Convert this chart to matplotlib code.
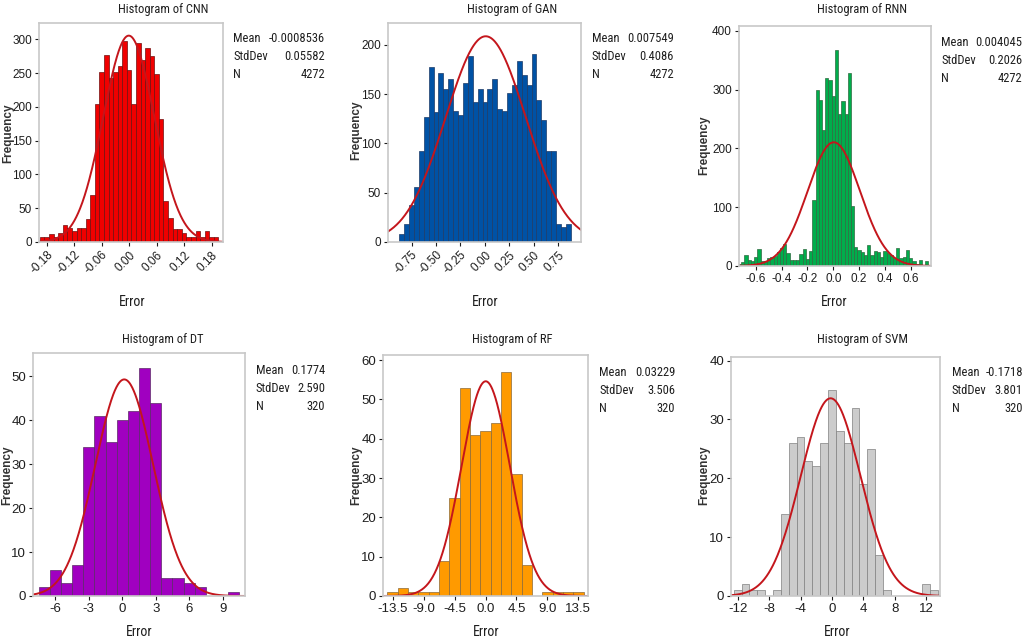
import matplotlib.pyplot as plt
from matplotlib import font_manager as fm
import numpy as np

# look for a narrow sans face (the reference text is condensed), else plain Arial metrics
narrow = None
for pref in ['Liberation Sans Narrow', 'Roboto Condensed', 'Open Sans Condensed', 'Noto Sans']:
    for f in fm.fontManager.ttflist:
        cond = ('Narrow' in f.name or 'Condensed' in f.name or f.stretch in ('condensed', 'semi-condensed'))
        if f.name.startswith(pref) and cond and f.style == 'normal' and f.weight in (400, 'normal', 'regular'):
            narrow = f.fname
            break
    if narrow:
        break

if narrow:
    fm.fontManager.addfont(narrow)
    narrow_name = fm.FontProperties(fname=narrow).get_name()
    plt.rcParams['font.family'] = [narrow_name, 'Liberation Sans', 'DejaVu Sans']
    stat_fs, title_fs, err_fs = 9, 9, 10
else:
    plt.rcParams['font.family'] = ['Liberation Sans', 'DejaVu Sans']
    stat_fs, title_fs, err_fs = 8, 8.5, 9

# CNN: bins 0.01 wide, midpoints -0.19 .. 0.19
cnn_counts = [8, 8, 12, 7, 14, 25, 20, 17, 21, 20, 34, 70,
              204, 252, 277, 243, 252, 260, 297, 254, 204, 294, 270, 287, 275, 249, 182,
              60, 36, 19, 19, 13, 7, 7, 16, 7, 16, 8, 8]
# GAN: bins 0.05 wide, midpoints -0.85 .. 0.85
gan_counts = [8, 18, 38, 56, 92, 127, 177, 132, 171, 155, 165, 133, 129, 161, 189, 142,
              155, 142, 155, 165, 135, 133, 151, 159, 183, 169, 159, 191, 144, 124, 92,
              92, 18, 15, 18]
# RNN: bins 0.025 wide, midpoints -0.725 .. 0.725
rnn_counts = [3, 7, 19, 11, 8, 15, 29, 9, 9, 13, 16, 17, 24, 30, 38, 22, 11, 11, 11, 20,
              29, 12, 25,
              112, 300, 282, 232, 320, 316, 289, 368, 258, 280, 258, 328, 102,
              33, 27, 24, 19, 35, 19, 26, 24, 16, 25, 22, 19, 14, 30, 14, 16, 27, 14,
              9, 3, 10, 2, 8]
# DT: bins 1 wide, midpoints -7 .. 10
dt_counts = [2, 6, 3, 7, 34, 41, 35, 40, 42, 52, 44, 4, 4, 3, 2, 0, 0, 1]
# RF: bins 1.5 wide, midpoints -13.5 .. 13.5
rf_counts = [1, 2, 1, 1, 1, 9, 25, 53, 41, 42, 44, 57, 31, 8, 0, 1, 1, 1, 1]
# SVM: bins 1 wide, midpoints -12 .. 13
svm_counts = [1, 2, 1, 1, 0, 1, 14, 26, 27, 23, 22, 26, 35, 28, 26, 32, 19, 25, 7, 1,
              0, 0, 0, 0, 2, 1]

models = ['CNN', 'GAN', 'RNN', 'DT', 'RF', 'SVM']
counts = [cnn_counts, gan_counts, rnn_counts, dt_counts, rf_counts, svm_counts]
first_mid = [-0.19, -0.85, -0.725, -7, -13.5, -12]
bin_width = [0.01, 0.05, 0.025, 1, 1.5, 1]
means = [-0.0008536, 0.007549, 0.004045, 0.1774, 0.03229, -0.1718]
stdevs = [0.05582, 0.4086, 0.2026, 2.590, 3.506, 3.801]
ns = [4272, 4272, 4272, 320, 320, 320]
mean_txt = ['-0.0008536', '0.007549', '0.004045', '0.1774', '0.03229', '-0.1718']
std_txt = ['0.05582', '0.4086', '0.2026', '2.590', '3.506', '3.801']
colors = ['#f00000', '#0052a5', '#00ad4c', '#a000c0', '#ff9a00', '#cccccc']
edges = ['#6e1010', '#1d3a66', '#2f6a40', '#5a2a66', '#8a6a3a', '#808080']

xticks = [[-0.18, -0.12, -0.06, 0.0, 0.06, 0.12, 0.18],
          [-0.75, -0.50, -0.25, 0.0, 0.25, 0.50, 0.75],
          [-0.6, -0.4, -0.2, 0.0, 0.2, 0.4, 0.6],
          [-6, -3, 0, 3, 6, 9],
          [-13.5, -9.0, -4.5, 0.0, 4.5, 9.0, 13.5],
          [-12, -8, -4, 0, 4, 8, 12]]
xtick_fmt = ['%.2f', '%.2f', '%.1f', '%d', '%.1f', '%d']
yticks = [range(0, 301, 50), range(0, 201, 50), range(0, 401, 100),
          range(0, 51, 10), range(0, 61, 10), range(0, 41, 10)]
xlims = [(-0.197, 0.205), (-0.99, 0.98), (-0.73, 0.757),
         (-8.0, 11.0), (-14.9, 14.9), (-12.85, 13.75)]
ylims = [324, 222, 408, 55.3, 61.3, 40.6]

W, H = 1024, 639
# axes boxes in pixels: left, right, top, bottom
boxes = [(39, 223, 23, 242), (388, 581, 23, 242), (739, 931, 26, 266),
         (33, 245, 353, 596), (383, 588, 355, 596), (731, 940, 357, 596)]
title_pos = [(163, 10), (512, 10), (862, 10), (163, 340), (512, 340), (862, 340)]
ylab_pos = [(8, 133), (356, 130), (704, 145), (7, 475), (356, 475), (704, 475)]
xlab_pos = [(132, 302), (485, 302), (834, 302), (139, 632), (486, 632), (837, 632)]
stat_pos = [(233, 325, 39), (592, 674, 39), (941, 1022, 42),
            (256, 325, 370), (599, 675, 372), (952, 1023, 372)]

fig = plt.figure(figsize=(10.24, 6.39), dpi=100)
txt = '#1e1e1e'

for i, name in enumerate(models):
    l, r, t, b = boxes[i]
    ax = fig.add_axes([l / W, 1 - b / H, (r - l) / W, (b - t) / H])
    c = counts[i]
    bw = bin_width[i]
    mids = first_mid[i] + bw * np.arange(len(c))
    ax.bar(mids, c, width=bw, color=colors[i], edgecolor=edges[i], linewidth=0.5)

    x = np.linspace(xlims[i][0], xlims[i][1], 400)
    y = ns[i] * bw / (stdevs[i] * np.sqrt(2 * np.pi)) * np.exp(-0.5 * ((x - means[i]) / stdevs[i]) ** 2)
    ax.plot(x, y, color='#c4161c', linewidth=1.4)

    ax.set_xlim(xlims[i])
    ax.set_ylim(0, ylims[i])
    ax.set_yticks(list(yticks[i]))
    ax.set_xticks(xticks[i])
    ax.set_xticklabels([xtick_fmt[i] % v for v in xticks[i]])
    fs = 8.5 if i < 3 else 9.5
    ax.tick_params(labelsize=fs, colors=txt, length=3, width=0.8, pad=2)
    for lab in ax.get_xticklabels() + ax.get_yticklabels():
        lab.set_family(['Liberation Sans', 'DejaVu Sans'])
    if i < 2:
        for lab in ax.get_xticklabels():
            lab.set_rotation(45)
            lab.set_ha('right')
            lab.set_rotation_mode('anchor')
    for s in ax.spines.values():
        s.set_color('#c8c8c8')
        s.set_linewidth(1.2)

    fig.text(title_pos[i][0] / W, 1 - title_pos[i][1] / H, 'Histogram of ' + name,
             ha='center', va='center', fontsize=title_fs, color=txt)
    fig.text(ylab_pos[i][0] / W, 1 - ylab_pos[i][1] / H, 'Frequency', rotation=90,
             ha='center', va='center', fontsize=8.5, fontweight='bold', color='#333333',
             family=['Liberation Sans', 'DejaVu Sans'])
    fig.text(xlab_pos[i][0] / W, 1 - xlab_pos[i][1] / H, 'Error',
             ha='center', va='center', fontsize=err_fs, color=txt)

    sl, sr, sy = stat_pos[i]
    labels = ['Mean', 'StdDev', 'N']
    values = [mean_txt[i], std_txt[i], str(ns[i])]
    for k in range(3):
        yy = 1 - (sy + 18 * k) / H
        fig.text(sl / W, yy, labels[k], ha='left', va='center', fontsize=stat_fs, color=txt)
        fig.text(sr / W, yy, values[k], ha='right', va='center', fontsize=stat_fs, color=txt)

fig.savefig('out.png', dpi=100)
